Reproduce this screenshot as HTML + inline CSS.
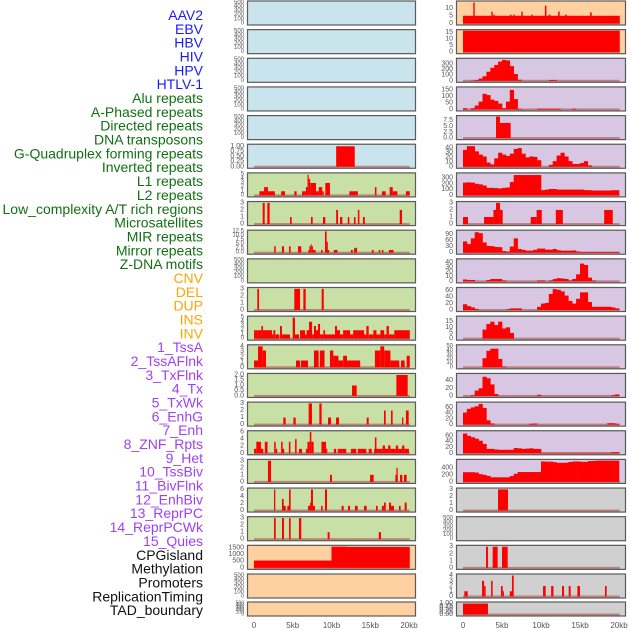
<!DOCTYPE html>
<html><head><meta charset="utf-8"><style>
html,body{margin:0;padding:0;background:#fff;width:630px;height:630px;overflow:hidden}
svg{display:block}
</style></head><body>
<svg id="chart" width="630" height="630" xmlns="http://www.w3.org/2000/svg" font-family="Liberation Sans, sans-serif"></svg>
<script>
// ---------- data ----------
const trackLabels = ["AAV2","EBV","HBV","HIV","HPV","HTLV-1","Alu repeats","A-Phased repeats","Directed repeats","DNA transposons","G-Quadruplex forming repeats","Inverted repeats","L1 repeats","L2 repeats","Low_complexity A/T rich regions","Microsatellites","MIR repeats","Mirror repeats","Z-DNA motifs","CNV","DEL","DUP","INS","INV","1_TssA","2_TssAFlnk","3_TxFlnk","4_Tx","5_TxWk","6_EnhG","7_Enh","8_ZNF_Rpts","9_Het","10_TssBiv","11_BivFlnk","12_EnhBiv","13_ReprPC","14_ReprPCWk","15_Quies","CPGisland","Methylation","Promoters","ReplicationTiming","TAD_boundary"];
const labelColors = ["#1a1aff","#1a1aff","#1a1aff","#1a1aff","#1a1aff","#1a1aff","#127012","#127012","#127012","#127012","#127012","#127012","#127012","#127012","#127012","#127012","#127012","#127012","#127012","#ffa500","#ffa500","#ffa500","#ffa500","#ffa500","#a040f5","#a040f5","#a040f5","#a040f5","#a040f5","#a040f5","#a040f5","#a040f5","#a040f5","#a040f5","#a040f5","#a040f5","#a040f5","#a040f5","#a040f5","#111","#111","#111","#111","#111"];
const xTickValues = [0,5,10,15,20];
const xTickLabels = ["0","5kb","10kb","15kb","20kb"];

const bgBlue="#c9e4ec", bgGreen="#c8e0a5", bgOrange="#ffd1a1", bgPurple="#d8c7e3", bgGray="#d0d0d0";
const col1Bg = [bgBlue,bgBlue,bgBlue,bgBlue,bgBlue,bgBlue,bgGreen,bgGreen,bgGreen,bgGreen,bgGreen,bgGreen,bgGreen,bgGreen,bgGreen,bgGreen,bgGreen,bgGreen,bgGreen,bgOrange,bgOrange,bgOrange];
const col2Bg = [bgOrange,bgOrange,bgPurple,bgPurple,bgPurple,bgPurple,bgPurple,bgPurple,bgPurple,bgPurple,bgPurple,bgPurple,bgPurple,bgPurple,bgPurple,bgPurple,bgPurple,bgGray,bgGray,bgGray,bgGray,bgGray];

const col1Ymax = [520,520,520,520,520,1.05,5.2,3.05,12.6,520,3.05,5.1,4.1,2.05,3.05,6.1,3.05,6.1,3.05,1620,520,520];
const col2Ymax = [14.5,16.5,380,165,9.2,46,370,3.05,105,46,67,19,52,56,75,74,610,3.05,520,3.05,4.1,1.05];

const T500=[0,100,200,300,400,500], T3=[0,1,2,3];
const col1Ticks = [T500,T500,T500,T500,T500,[0,0.25,0.5,0.75,1],[0,1,2,3,4,5],T3,[0,2.5,5,7.5,10,12.5],T500,T3,[0,1,2,3,4,5],[0,1,2,3,4],[0,0.5,1,1.5,2],T3,[0,2,4,6],T3,[0,2,4,6],T3,[0,500,1000,1500],T500,T500];
const col2Ticks = [[0,5,10],[0,5,10,15],[0,100,200,300],[0,50,100,150],[0,2.5,5,7.5],[0,10,20,30,40],[0,100,200,300],T3,[0,30,60,90],[0,10,20,30,40],[0,20,40,60],[0,5,10,15],[0,10,20,30,40,50],[0,20,40],[0,20,40,60],[0,20,40,60],[0,200,400],T3,T500,T3,[0,1,2,3,4],[0,0.25,0.5,0.75,1]];
const col1TickDec = [0,0,0,0,0,2,0,0,1,0,0,0,0,1,0,0,0,0,0,0,0,0];
const col2TickDec = [0,0,0,0,1,0,0,0,0,0,0,0,0,0,0,0,0,0,0,0,0,2];

// segment data: start kb, end kb, value
const segStarts = {
 "c1-5":[10.6],
 "c1-6":[0.7,1.3,1.8,3.5,5.2,6.2,6.7,6.9,7.05,7.25,8.0,8.35,8.8,9.2,12.3,15.6,16.5,17.5,17.9,19.6],
 "c1-7":[1.12,1.72,4.65,7.35,8.9,10.6,11.1,12.1,12.9,13.4,14.06,18.8],
 "c1-8":[2.6,3.6,4.52,5.68,7.0,7.15,7.3,7.45,7.6,8.65,9.16,9.37,9.2,10.3,12.5,12.9,13.1,15.2,16.1,16.5,17.4],
 "c1-10":[0.43,5.2,6.37,8.73],
 "c1-11":[0,0.2,0.4,0.95,1.16,2.06,2.32,2.5,2.75,3.36,3.61,3.87,4.99,5.29,5.94,6.58,6.8,7.1,7.5,7.74,8.0,8.26,8.52,8.95,9.16,10.45,10.71,11.1,11.5,11.95,12.4,12.8,13.3,13.75,14.2,14.5,14.8,15.4,15.8,16.3,16.8,17.1,17.4,17.8,18.1],
 "c1-12":[0,0.52,1.12,5.42,6.06,7.74,8.5,9.8,10.24,10.9,11.5,12.0,15.6,16.3,16.8,17.6,18.97,19.7],
 "c1-13":[12.65,18.37],
 "c1-14":[3.78,5.08,7.05,8.43,9.55,10.58,14.54,16.77,17.68,19.1,19.6],
 "c1-15":[0,0.3,0.9,1.4,2.6,2.8,3.5,3.6,4.5,5.3,5.8,6.7,6.9,7.2,7.4,8.7,9.3,10.3,10.8,11.0,11.4,12.5,13.4,13.8,14.8,15.5,15.6,16.2,16.6,16.9,17.3,17.6,18.3,18.6,19.1,19.4],
 "c1-16":[1.8,9.8,14.97,18.24,18.37,18.84,19.35],
 "c1-17":[2.58,3.61,3.78,4.3,4.52,6.97,7.23,7.35,7.61,8.65,9.16,11.3,12.13,13.03,14.19,15.74,16.5,16.77,17.42,17.68,18.71,19.44],
 "c1-18":[2.58,3.61,4.52,5.8,9.5,16.1],
 "c1-19":[0,10,12],
 "c2-0":[0,1.32,3.63,3.89,6.03,6.45,7.48,8.76,10.5,11.0,12.2,13.1,16.3],
 "c2-1":[0],
 "c2-4":[4.23,4.74],
 "c2-7":[0,2.7,3.9,4.23,4.74,8.68,9.44,11.9,18.1],
 "c2-17":[4.49],
 "c2-19":[2.95,3.8,5.0],
 "c2-20":[0.17,2.44,2.7,3.6,4.87,5.09,6.0,6.28,10.26,11.3,12.7,13.55,14.66,18.2],
 "c2-21":[0]
};
const segEnds = {
 "c1-5":[13.0],
 "c1-6":[1.3,1.8,2.7,4.0,5.5,6.7,6.9,7.05,7.25,8.0,8.35,8.8,9.0,9.8,13.4,15.8,17.0,17.9,18.5,20.1],
 "c1-7":[1.38,2.02,4.86,7.57,9.2,10.84,11.4,12.3,13.1,13.6,14.3,19.1],
 "c1-8":[2.8,3.87,4.73,6.1,7.15,7.3,7.45,7.6,7.95,8.86,9.37,9.5,9.7,10.77,12.75,13.1,13.3,15.45,16.3,16.7,18.0],
 "c1-10":[0.65,5.94,6.67,9.0],
 "c1-11":[0.2,0.4,0.95,1.16,2.06,2.32,2.5,2.75,3.27,3.61,3.87,4.65,5.29,5.81,6.58,6.8,7.1,7.5,7.74,8.0,8.26,8.52,8.95,9.16,10.45,10.71,11.1,11.5,11.95,12.4,12.8,13.3,13.75,14.2,14.5,14.8,15.4,15.8,16.3,16.8,17.1,17.4,17.8,18.1,20.1],
 "c1-12":[0.52,1.12,1.55,5.94,6.97,8.34,9.1,10.24,10.9,11.5,12.0,13.7,16.3,16.8,17.6,18.75,19.44,20.1],
 "c1-13":[13.25,19.83],
 "c1-14":[4.09,5.38,7.48,8.73,9.94,10.97,14.8,16.99,17.89,19.27,19.96],
 "c1-15":[0.3,0.9,1.2,1.75,2.8,3.0,3.7,3.9,4.7,5.5,6.2,6.9,7.2,7.4,7.7,9.3,9.4,10.6,11.0,11.4,11.9,13.2,13.8,14.5,15.2,16.2,15.8,16.6,16.9,17.3,17.6,18.3,18.6,19.1,19.4,20.0],
 "c1-16":[2.2,10.06,15.44,18.54,18.54,19.14,19.7],
 "c1-17":[2.75,3.83,4.09,4.52,4.73,7.23,7.35,7.61,7.87,8.86,9.42,11.57,12.39,13.38,14.54,15.96,16.77,17.0,17.68,18.06,18.92,19.7],
 "c1-18":[2.8,3.87,4.73,6.1,9.76,16.39],
 "c1-19":[10,12,20.1],
 "c2-0":[20.1,1.5,3.81,4.07,6.21,6.63,7.66,8.94,10.7,11.2,12.4,13.3,16.5],
 "c2-1":[20.1],
 "c2-4":[4.74,6.11],
 "c2-7":[0.64,3.9,4.23,4.74,5.09,9.44,10.1,12.8,19.2],
 "c2-17":[5.77],
 "c2-19":[3.2,4.44,5.73],
 "c2-20":[0.6,2.7,2.9,3.8,5.09,5.2,6.28,6.5,10.6,11.6,12.95,13.8,15.0,18.42],
 "c2-21":[3.2]
};
const segVals = {
 "c1-5":[1],
 "c1-6":[1,2,1,1,1,1,2,5,4,3,1,2,1,3,1,2,1,2,1,1],
 "c1-7":[3,3,1,1,1,2,1,1,1,2,1,2],
 "c1-8":[3.8,3.8,3.8,3.8,1.6,3.8,4.8,3.8,1.6,1.6,12.5,6.4,1.6,1.6,1.6,2.6,2.9,1.6,1.6,1.6,1.6],
 "c1-10":[3,3,3,3],
 "c1-11":[2,2,2,3,2,2,1,2,1,3,1,1,5,1,2,1,2,4,1,3,2,3.5,1,2,1,3,2,1,2,2,1,2,2,2,1,3,1,2,1,2,1,3,1,1,2],
 "c1-12":[1.3,4,3.2,1.3,1.3,3.2,3.2,3.2,2.2,1.3,2.2,1.3,3.2,4,3.2,1.3,1.3,2.2],
 "c1-13":[1,2],
 "c1-14":[1,1,3,3,1,1,1,2,2,1,2],
 "c1-15":[1.25,3.25,1.25,3.25,3.25,1.25,3.25,1.25,3.25,4,1.25,1.25,3.25,6,3.25,3.25,1.25,1.25,1.25,1.25,1.25,1.25,1.25,1.25,1.25,1.25,4.5,1.25,2.2,1.25,2.2,1.25,2.2,1.25,2.2,1.25],
 "c1-16":[3,1,1,1,2,1,1],
 "c1-17":[6,3.3,1.33,1.33,6,1.33,2.25,6,1.33,1.33,6,1.33,1.33,1.33,1.33,1.33,1.33,2.25,2.25,1.33,1.33,2.25],
 "c1-18":[3,3,3,3,1,1],
 "c1-19":[550,1600,1580],
 "c2-0":[5.2,14.2,8,6,6,6,8,6,12,6,8,6,7.5],
 "c2-1":[16.5],
 "c2-4":[9.2,6.5],
 "c2-7":[1,1,2,3,2,1,2,2,2],
 "c2-17":[3],
 "c2-19":[3,3,3],
 "c2-20":[1,3,2,3,2,1,1,4,2,2,2,2,2,2],
 "c2-21":[1]
};
// binned data: 40 bins of 0.5 kb
const binVals = {
 "c2-2":[0,0,5,15,40,80,160,230,280,340,370,360,260,120,20,0,0,0,0,0,0,0,15,15,0,0,0,0,0,0,0,0,0,0,0,0,0,0,0,0],
 "c2-3":[10,0,10,30,60,120,110,75,65,45,10,60,150,80,5,0,0,0,0,6,6,6,6,6,6,0,0,0,6,0,0,0,0,0,0,0,0,0,0,0],
 "c2-5":[36,44,44,33,26,22,9,5,18,30,26,23,28,38,40,28,20,22,21,14,0,0,4,12,24,30,22,12,6,6,8,12,3,0,0,0,0,0,0,0],
 "c2-6":[220,225,220,200,190,170,130,130,125,120,130,135,230,350,350,350,350,350,350,350,90,100,110,110,100,100,100,100,100,100,100,90,90,85,85,85,85,85,90,90],
 "c2-8":[55,42,70,100,95,50,33,32,28,27,8,6,30,70,18,14,10,10,14,20,20,15,15,18,12,10,10,10,11,6,4,4,4,4,4,4,4,4,4,4],
 "c2-9":[4,3,3,0,0,0,3,5,5,5,2,0,0,0,0,0,0,0,0,2,2,0,2,5,7,6,5,2,5,15,38,35,8,2,0,0,0,0,0,0],
 "c2-10":[18,12,8,3,0,0,0,0,0,0,0,2,5,5,5,0,0,0,0,10,20,22,50,65,63,58,45,28,20,35,55,55,25,10,10,10,10,10,8,5],
 "c2-11":[0,0,0,0,0,8,13,15,12,15,9,10,5,0,0,0,0,0,0,0,0,0,0,0,0,0,0,0,0,0,0,0,0,0,0,0,0,0,0,0],
 "c2-12":[0,0,0,0,0,22,40,45,45,20,2,0,0,0,0,0,0,0,0,0,0,0,0,0,0,0,0,0,0,0,0,0,0,0,0,0,0,0,0,0],
 "c2-13":[0,0,2,14,20,50,46,30,5,0,0,0,0,0,0,0,0,0,0,3,0,0,0,0,0,0,0,0,0,0,0,0,0,0,0,0,0,0,2,4],
 "c2-14":[42,55,60,64,72,58,15,4,0,0,0,0,0,0,0,0,0,3,4,0,0,0,0,0,0,0,0,0,0,0,0,0,0,0,0,0,0,5,5,3],
 "c2-15":[68,60,55,50,43,32,15,15,13,12,12,12,12,18,17,15,16,17,15,15,2,2,2,2,2,2,2,2,2,2,2,2,2,2,2,2,2,2,4,4],
 "c2-16":[275,275,275,265,220,200,170,130,130,130,130,130,165,230,280,280,280,280,280,280,580,575,575,560,540,540,545,565,580,580,570,570,590,595,605,605,605,605,605,605]
};

// ---------- drawing ----------
const NS="http://www.w3.org/2000/svg";
const svg=document.getElementById('chart');
function mk(tag,attrs,parent){const e=document.createElementNS(NS,tag);for(const k in attrs)e.setAttribute(k,attrs[k]);(parent||svg).appendChild(e);return e;}

// labels
trackLabels.forEach((t,i)=>{
  const e=mk('text',{x:203,y:15+i*13.84,'text-anchor':'end','dominant-baseline':'central','font-size':14,fill:labelColors[i]});
  e.textContent=t;
  
  
});

const cols=[
  {id:'c1',left:247,right:416,x0:254,ppk:7.75,bg:col1Bg,ymax:col1Ymax,ticks:col1Ticks,dec:col1TickDec},
  {id:'c2',left:456,right:626,x0:463,ppk:7.8,bg:col2Bg,ymax:col2Ymax,ticks:col2Ticks,dec:col2TickDec}
];
cols.forEach(c=>{
  const xs=kb=>c.x0+kb*c.ppk;
  for(let r=0;r<22;r++){
    const top=r<21? 0.5+r*28.65 : 601.5;
    const h=r<21?25:15;
    const y0=top+h-2, y1=top+1.5;
    const ys=v=>y0-(v/c.ymax[r])*(y0-y1);
    const key=c.id+'-'+r;
    const g=mk('g',{});
    
    
    const bg=mk('rect',{x:c.left,y:top,width:c.right-c.left,height:h,fill:c.bg[r]},g);
    
    
    const hasData = segVals[key]||binVals[key];
    if(hasData){
      const bl=mk('rect',{x:xs(0),y:y0-1,width:xs(20.1)-xs(0),height:2,fill:'#b4605a',opacity:0.7},g);
      
      
    }
    if(segVals[key]){
      segVals[key].forEach((v,i)=>{
        const a=xs(segStarts[key][i]), b=xs(segEnds[key][i]);
        const br=mk('rect',{x:a,y:ys(v),width:Math.max(1.2,b-a),height:y0-ys(v),fill:'#ff0000'},g);
        
        
      });
    }
    if(binVals[key]){
      binVals[key].forEach((v,i)=>{
        if(v<=0)return;
        const a=xs(i*0.5), b=xs(i*0.5+0.5);
        const br=mk('rect',{x:a,y:ys(v),width:b-a+0.3,height:y0-ys(v),fill:'#ff0000'},g);
        
        
      });
    }
    const fr=mk('rect',{x:c.left+0.5,y:top+0.5,width:c.right-c.left-1,height:h-1,fill:'none',stroke:'#5a5a5a','stroke-width':1.2},g);
    
    
    const tk=c.ticks[r];
    const fs = tk.length>=6 && h<20 ? 5 : (tk.length>=6 ? 6 : 7);
    tk.forEach(t=>{
      const e=mk('text',{x:c.left-3,y:ys(t),'text-anchor':'end','dominant-baseline':'central','font-size':fs,fill:'#555'},g);
      e.textContent=t.toFixed(c.dec[r]);
      
      
    });
  }
  xTickValues.forEach((v,i)=>{
    const e=mk('text',{x:xs(v),y:628,'text-anchor':'middle','font-size':8,fill:'#555'});
    e.textContent=xTickLabels[i];
    
    
  });
});
</script>
</body></html>
